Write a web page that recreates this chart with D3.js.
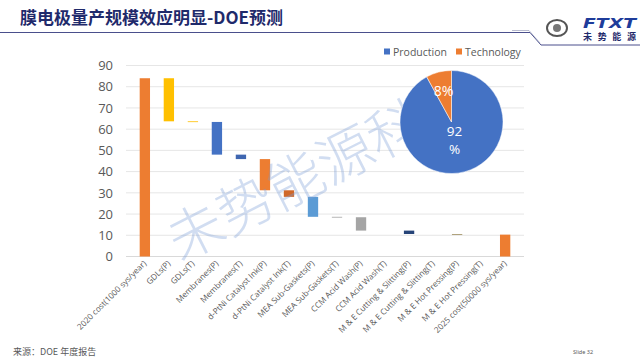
<!DOCTYPE html>
<html><head><meta charset="utf-8">
<script src="https://cdn.jsdelivr.net/npm/d3@7"></script>
<style>body{margin:0;background:#fff;}svg{display:block;font-family:"Noto Sans","Open Sans",sans-serif;}</style>
</head><body><svg id="c" width="640" height="360"></svg>
<script>
const categories = ["2020 cost(1000 sys/year)","GDLs(P)","GDLs(T)","Membranes(P)","Membranes(T)","d-PtNi Catalyst Ink(P)","d-PtNi Catalyst Ink(T)","MEA Sub-Gaskets(P)","MEA Sub-Gaskets(T)","CCM Acid Wash(P)","CCM Acid Wash(T)","M & E Cutting & Slitting(P)","M & E Cutting & Slitting(T)","M & E Hot Pressing(P)","M & E Hot Pressing(T)","2025 cost(50000 sys/year)"];
// totals are positive full bars; steps are reductions
const values = [84, -20.3, -0.3, -15.4, -2.1, -14.7, -3.1, -9.4, -0.2, -6.3, 0, -1.6, 0, -0.3, 0, 10.3];
const isTotal = [true,false,false,false,false,false,false,false,false,false,false,false,false,false,false,true];
const barColors = ["#ED7D31","#FFC000","#FFC000","#4472C4","#3F66B0","#ED7D31","#D0682A","#5B9BD5","#A5A5A5","#A5A5A5","#A5A5A5","#264478","#264478","#9E8E5E","#9E8E5E","#ED7D31"];
const yTicks = [0,10,20,30,40,50,60,70,80,90];
const pieLabels = ["Production","Technology"];
const pieValues = [92, 8];
const pieColors = ["#4472C4","#ED7D31"];

const svg = d3.select("#c");

// header
svg.append("text").attr("x",20).attr("y",24).attr("font-size",17).attr("font-weight","bold")
  .attr("fill","#1F2A6B").attr("font-family","'Noto Sans CJK SC',sans-serif").text("膜电极量产规模效应明显-DOE预测");
svg.append("path").attr("d","M0,32.5H530L541,45H640").attr("fill","none").attr("stroke","#4A4F8C").attr("stroke-width",1);
svg.append("path").attr("d","M512,30.5H529L540,43").attr("fill","none").attr("stroke","#8A8FB0").attr("stroke-width",0.6);
// logo
svg.append("ellipse").attr("cx",557).attr("cy",28).attr("rx",10).attr("ry",8).attr("fill","none").attr("stroke","#555").attr("stroke-width",2);
svg.append("circle").attr("cx",557).attr("cy",28).attr("r",4).attr("fill","#777");
svg.append("text").attr("x",583).attr("y",28).attr("font-size",14).attr("font-weight","bold").attr("font-style","italic")
  .attr("fill","#1E3C9A").attr("font-family","'DejaVu Sans',sans-serif").attr("textLength",53).attr("lengthAdjust","spacingAndGlyphs").text("FTXT");
svg.append("text").attr("x",583).attr("y",39.5).attr("font-size",9).attr("font-weight","bold")
  .attr("fill","#1F2A6B").attr("font-family","'Noto Sans CJK SC',sans-serif").attr("textLength",53).text("未势能源");

// chart
const x = d3.scaleBand().domain(categories).range([126, 524]).padding(0.57);
const y = d3.scaleLinear().domain([0, 90]).range([256.5, 65.5]);

const g = svg.append("g");
g.selectAll("line.grid").data(yTicks).join("line").attr("class","grid")
  .attr("x1",126).attr("x2",524).attr("y1",d=>y(d)).attr("y2",d=>y(d))
  .attr("stroke", d=> d===0 ? "#D9D9D9" : "#E6E6E6").attr("stroke-width",1);

const yAxis = d3.axisLeft(y).tickValues(yTicks).tickSize(0).tickPadding(0);
const ya = svg.append("g").attr("transform","translate(113,0)").call(yAxis);
ya.select(".domain").remove();
ya.selectAll("text").attr("font-size",13).attr("fill","#595959").attr("font-family","'Open Sans',sans-serif");

// waterfall
let cum = 0;
const bars = values.map((v,i)=>{
  let a,b;
  if (isTotal[i]) { a = 0; b = v; cum = v; }
  else { a = cum; b = cum + v; cum = b; }
  return {cat:categories[i], lo:Math.min(a,b), hi:Math.max(a,b), color:barColors[i], v};
});
g.selectAll("rect.bar").data(bars.filter(d=>d.v!==0)).join("rect").attr("class","bar")
  .attr("x",d=>x(d.cat)).attr("width",x.bandwidth())
  .attr("y",d=>y(d.hi)).attr("height",d=>Math.max(0.8, y(d.lo)-y(d.hi)))
  .attr("fill",d=>d.color);

const xAxis = d3.axisBottom(x).tickSize(0).tickPadding(0);
const xa = svg.append("g").attr("transform","translate(0,262)").call(xAxis);
xa.select(".domain").remove();
xa.selectAll("text").attr("font-size",8.2).attr("fill","#595959").attr("font-family","'Open Sans',sans-serif")
  .attr("text-anchor","end").attr("dy","0.35em").attr("transform","rotate(-45)");

// watermark
svg.append("text").attr("transform","translate(180,262) rotate(-27)").attr("font-size",56)
  .attr("fill","#7C9FD6").attr("fill-opacity",0.35).attr("font-family","'Noto Sans CJK SC',sans-serif")
  .attr("font-weight",300).text("未势能源科");

// legend
const lg = svg.append("g");
const legX = [385, 457];
pieLabels.forEach((l,i)=>{
  lg.append("rect").attr("x",legX[i]-1).attr("y",48.5).attr("width",6).attr("height",6).attr("fill",pieColors[i]);
  lg.append("text").attr("x",legX[i]+8).attr("y",55.5).attr("font-size",10.5).attr("fill","#595959")
    .attr("font-family","'Open Sans',sans-serif").text(l);
});

// pie: Production starts at 12 o'clock clockwise, Technology ends at 12 o'clock
const pie = d3.pie().sort(null);
const arcs = pie(pieValues);
const arc = d3.arc().innerRadius(0).outerRadius(51.5);
const pg = svg.append("g").attr("transform","translate(451.5,122)");
pg.selectAll("path").data(arcs).join("path").attr("d",arc).attr("fill",(d,i)=>pieColors[i]).attr("stroke","#fff").attr("stroke-width",0.5);
pg.append("text").attr("x",-8).attr("y",-26).attr("text-anchor","middle").attr("font-size",14).attr("fill","#fff")
  .attr("font-family","'Open Sans',sans-serif").text(pieValues[1]+"%");
pg.append("text").attr("x",3).attr("y",14).attr("text-anchor","middle").attr("font-size",13.5).attr("fill","#fff")
  .attr("font-family","'Open Sans',sans-serif").text(pieValues[0]);
pg.append("text").attr("x",3).attr("y",32).attr("text-anchor","middle").attr("font-size",13.5).attr("fill","#fff")
  .attr("font-family","'Open Sans',sans-serif").text("%");

// footer
svg.append("text").attr("x",13).attr("y",355).attr("font-size",9).attr("fill","#595959")
  .attr("font-family","'Noto Sans CJK SC',sans-serif").text("来源：DOE 年度报告");
svg.append("text").attr("x",573).attr("y",354).attr("font-size",5.5).attr("fill","#595959").text("Slide 32");
</script></body></html>
